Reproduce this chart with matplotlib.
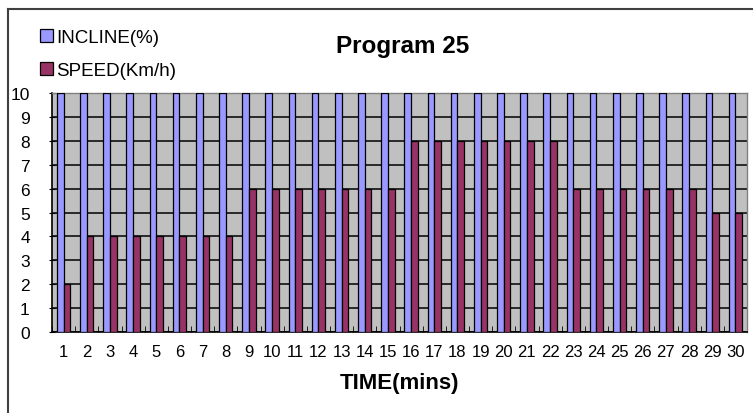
import numpy as np
import matplotlib.pyplot as plt
from matplotlib.lines import Line2D

plt.rcParams['font.family'] = ['Liberation Sans', 'DejaVu Sans']

# data
minutes = list(range(1, 31))
incline = [10] * 30
speed = [2, 4, 4, 4, 4, 4, 4, 4, 6, 6, 6, 6, 6, 6, 6,
         8, 8, 8, 8, 8, 8, 8, 6, 6, 6, 6, 6, 6, 5, 5]

W, H = 753, 414
fig = plt.figure(figsize=(W / 100, H / 100), dpi=100)
ax = fig.add_axes([52 / W, 1 - 333 / H, (747 - 52) / W, (333 - 94) / H])

x = np.arange(len(minutes))
bw = 1 / 3.5  # excel style gap width 150%

ax.set_facecolor('#C0C0C0')
ax.yaxis.grid(True, color='black', linewidth=1.1, zorder=1)
ax.set_axisbelow(True)

ax.bar(x - bw / 2, incline, bw, color='#9999FF', edgecolor='black',
       linewidth=0.9, label='INCLINE(%)', zorder=3)
ax.bar(x + bw / 2, speed, bw, color='#993366', edgecolor='black',
       linewidth=0.9, label='SPEED(Km/h)', zorder=3)

ax.set_xlim(-0.5, len(minutes) - 0.5)
ax.set_ylim(0, 10)
ax.set_yticks(range(0, 11))
ax.set_xticks(x)
ax.set_xticklabels([str(m) for m in minutes])
ax.set_xticks(np.arange(-0.5, len(minutes)), minor=True)
ax.tick_params(axis='x', which='major', length=0, pad=9, labelsize=12)
ax.tick_params(axis='x', which='minor', length=4, direction='in', color='black')
ax.tick_params(axis='y', length=4, direction='inout', pad=14, labelsize=12.5)

for s in ['left', 'bottom']:
    ax.spines[s].set_color('black')
    ax.spines[s].set_linewidth(1.2)
for s in ['top', 'right']:
    ax.spines[s].set_color('#808080')
    ax.spines[s].set_linewidth(1.0)

ax.set_xlabel('TIME(mins)', fontsize=16, fontweight='bold', labelpad=9)
fig.text(403 / W, 1 - 46 / H, 'Program 25', fontsize=17.5, fontweight='bold',
         ha='center', va='center')

fig.legend(loc='upper left', bbox_to_anchor=(40 / W, 1 - 30 / H),
           frameon=False, fontsize=13.5, handlelength=0.7, handleheight=0.7,
           handletextpad=0.15, labelspacing=0.85, borderpad=0, borderaxespad=0)

# outer chart frame (left and top edges visible)
fig.add_artist(Line2D([8 / W, 8 / W], [0, 1 - 10 / H], color='#404040',
                      linewidth=1.5, transform=fig.transFigure))
fig.add_artist(Line2D([8 / W, 1], [1 - 10 / H, 1 - 10 / H], color='#404040',
                      linewidth=1.5, transform=fig.transFigure))

fig.savefig('out.png', dpi=100)
